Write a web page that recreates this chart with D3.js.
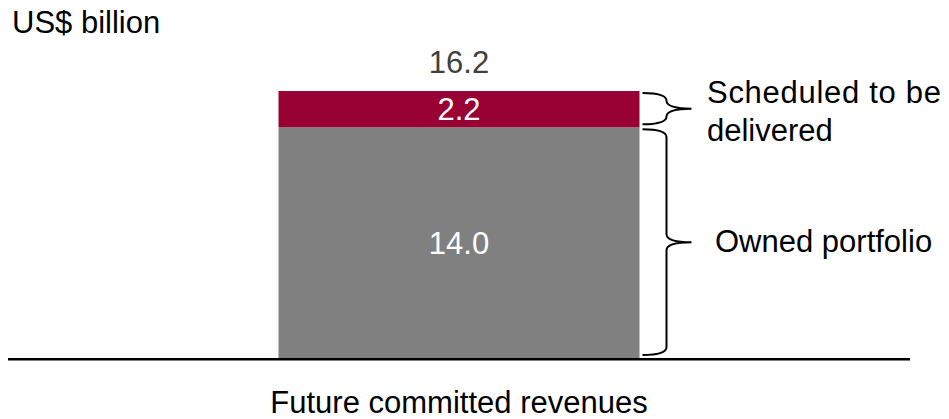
<!DOCTYPE html>
<html><head><meta charset="utf-8">
<script src="https://cdn.jsdelivr.net/npm/d3@7"></script>
<style>body{margin:0;background:#fff}svg text{font-family:"Liberation Sans",Arial,sans-serif}</style>
</head><body><svg id="c" width="949" height="419"></svg>
<script>
const category = ["Future committed revenues"];
const segNames = ["Owned portfolio", "Scheduled to be delivered"];
const segValues = [14.0, 2.2];
const totalLabel = "16.2";
const unitLabel = "US$ billion";
const colors = ["#808080", "#990033"];

const FS = 31;
const svg = d3.select("#c");
const total = d3.sum(segValues);
const y = d3.scaleLinear().domain([0, total]).range([358, 91]);
const barW = 361, cx = 459;

let acc = 0;
const segs = segValues.map((v, i) => { const s = {v, i, y0: acc, y1: acc + v}; acc += v; return s; });

svg.selectAll("rect.seg").data(segs).enter().append("rect")
  .attr("x", cx - barW / 2).attr("width", barW)
  .attr("y", d => y(d.y1)).attr("height", d => y(d.y0) - y(d.y1))
  .attr("fill", d => colors[d.i]);

svg.selectAll("text.val").data(segs).enter().append("text")
  .attr("x", cx).attr("y", d => (y(d.y0) + y(d.y1)) / 2 + 11)
  .attr("text-anchor", "middle").attr("font-size", FS).attr("fill", "#fff")
  .text(d => d.v.toFixed(1));

svg.append("text").attr("x", cx).attr("y", y(total) - 18).attr("text-anchor", "middle")
  .attr("font-size", FS).attr("fill", "#404040").text(totalLabel);

svg.append("line").attr("x1", 8).attr("x2", 910).attr("y1", 359.3).attr("y2", 359.3)
  .attr("stroke", "#000").attr("stroke-width", 2.5);

svg.append("text").attr("x", cx).attr("y", 413).attr("text-anchor", "middle")
  .attr("font-size", FS).attr("fill", "#000").text(category[0]);

svg.append("text").attr("x", 12).attr("y", 33).attr("font-size", FS).attr("fill", "#000").text(unitLabel);

function brace(y0, y1, x0, xs, xt) {
  const ym = (y0 + y1) / 2, r = Math.min(8, (y1 - y0) / 4);
  return `M${x0},${y0} Q${xs},${y0} ${xs},${y0 + r} L${xs},${ym - r} Q${xs},${ym} ${xt},${ym}`
    + ` M${xt},${ym} Q${xs},${ym} ${xs},${ym + r} L${xs},${y1 - r} Q${xs},${y1} ${x0},${y1}`;
}
const bx0 = cx + barW / 2 + 3;
svg.selectAll("path.brace").data(segs).enter().append("path")
  .attr("d", d => brace(y(d.y1) + 2, y(d.y0) - 3, bx0, bx0 + 24, bx0 + 49))
  .attr("fill", "none").attr("stroke", "#000").attr("stroke-width", 2);

const lab = svg.append("g").attr("font-size", FS).attr("fill", "#000");
lab.append("text").attr("x", 707).attr("y", 103).attr("textLength", 234).attr("lengthAdjust", "spacing").text("Scheduled to be");
lab.append("text").attr("x", 707).attr("y", 141).text("delivered");
lab.append("text").attr("x", 715).attr("y", 252).text(segNames[0]);
</script></body></html>
